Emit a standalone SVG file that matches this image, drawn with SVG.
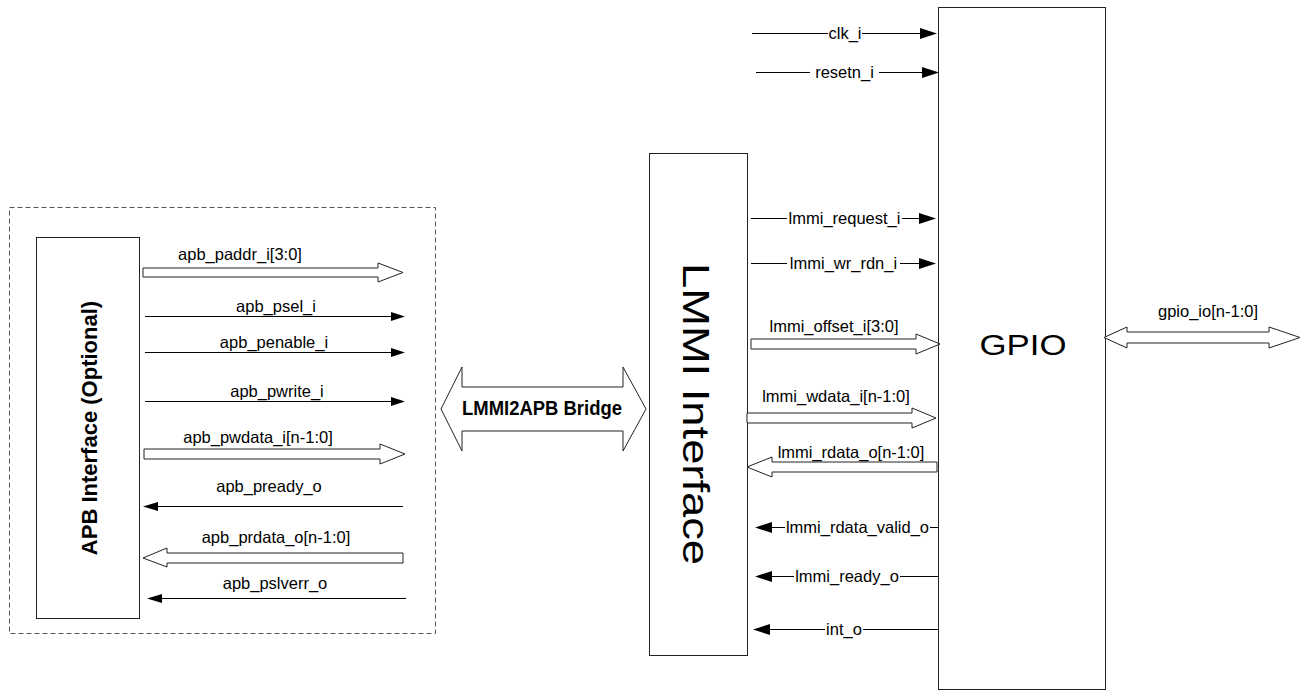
<svg xmlns="http://www.w3.org/2000/svg" width="1304" height="690" viewBox="0 0 1304 690">
<style>
.bg{fill:#fff}
.box{fill:#fff;stroke:#222;stroke-width:1}
.dash{fill:none;stroke:#555;stroke-width:1;stroke-dasharray:5,3}
.ln{stroke:#000;stroke-width:1;fill:none}
.hollow{fill:#fff;stroke:#222;stroke-width:1}
.head{fill:#000;stroke:none}
.sig{font-family:"Liberation Sans",Arial,sans-serif;font-size:16.5px;fill:#000;text-anchor:middle}
.bold{font-family:"Liberation Sans",Arial,sans-serif;font-weight:bold;fill:#000;text-anchor:middle}
.big{font-family:"Liberation Sans",Arial,sans-serif;fill:#000;text-anchor:middle}
</style>
<rect class="bg" x="0" y="0" width="1304" height="690"/>

<g id="apb-region">
  <rect class="dash" x="9.5" y="207.5" width="426" height="426"/>
</g>

<g id="apb-interface">
  <rect class="box" x="36.5" y="237.5" width="103" height="381"/>
  <text class="bold" font-size="22" transform="translate(97,428) rotate(-90)">APB Interface (Optional)</text>
</g>

<g id="lmmi2apb-bridge">
  <polygon class="hollow" points="441,409 462,367 462,387 623,387 623,367 646,409 623,451 623,431 462,431 462,451"/>
  <text class="bold" font-size="20" x="542" y="415" textLength="160" lengthAdjust="spacingAndGlyphs">LMMI2APB Bridge</text>
</g>

<g id="lmmi-interface">
  <rect class="box" x="649.5" y="153.5" width="98" height="502"/>
  <text class="big" font-size="37" transform="translate(683,414) rotate(90)" textLength="302" lengthAdjust="spacingAndGlyphs">LMMI Interface</text>
</g>

<g id="gpio">
  <rect class="box" x="938.5" y="7.5" width="167" height="682"/>
  <text class="big" font-size="30" x="1023" y="355" textLength="87" lengthAdjust="spacingAndGlyphs">GPIO</text>
</g>

<g id="connectors">
  <polygon class="hollow" points="143,268 378,268 378,263 403,272.5 378,282 378,277 143,277"/>
  <text class="sig" x="240" y="260">apb_paddr_i[3:0]</text>

  <line class="ln" x1="145" y1="316.5" x2="392" y2="316.5"/>
  <polygon class="head" points="391,312 405,316.5 391,321"/>
  <text class="sig" x="276" y="312">apb_psel_i</text>

  <line class="ln" x1="145" y1="352.5" x2="392" y2="352.5"/>
  <polygon class="head" points="391,348 405,352.5 391,357"/>
  <text class="sig" x="274" y="348">apb_penable_i</text>

  <line class="ln" x1="145" y1="401.5" x2="392" y2="401.5"/>
  <polygon class="head" points="391,397 405,401.5 391,406"/>
  <text class="sig" x="277" y="397">apb_pwrite_i</text>

  <polygon class="hollow" points="144,449 380,449 380,444 405,454 380,464 380,459 144,459"/>
  <text class="sig" x="258" y="443">apb_pwdata_i[n-1:0]</text>

  <line class="ln" x1="156" y1="506.5" x2="403" y2="506.5"/>
  <polygon class="head" points="158,502 143,506.5 158,511"/>
  <text class="sig" x="269" y="492">apb_pready_o</text>

  <polygon class="hollow" points="403,553 167,553 167,548 143,558 167,567 167,563 403,563"/>
  <text class="sig" x="276" y="543">apb_prdata_o[n-1:0]</text>

  <line class="ln" x1="160" y1="598.5" x2="406" y2="598.5"/>
  <polygon class="head" points="162,594 147,598.5 162,603"/>
  <text class="sig" x="275" y="589">apb_pslverr_o</text>

  <line class="ln" x1="752" y1="33.5" x2="828" y2="33.5"/>
  <line class="ln" x1="862" y1="33.5" x2="922" y2="33.5"/>
  <polygon class="head" points="920,28 937,33.5 920,39"/>
  <text class="sig" x="845" y="39">clk_i</text>

  <line class="ln" x1="756" y1="72.5" x2="810" y2="72.5"/>
  <line class="ln" x1="879" y1="72.5" x2="924" y2="72.5"/>
  <polygon class="head" points="922,67 939,72.5 922,78"/>
  <text class="sig" x="844.5" y="78">resetn_i</text>

  <line class="ln" x1="751" y1="218.5" x2="787" y2="218.5"/>
  <line class="ln" x1="902" y1="218.5" x2="921" y2="218.5"/>
  <polygon class="head" points="919,213 936,218.5 919,224"/>
  <text class="sig" x="844.5" y="224">lmmi_request_i</text>

  <line class="ln" x1="751" y1="263.5" x2="787" y2="263.5"/>
  <line class="ln" x1="900" y1="263.5" x2="921" y2="263.5"/>
  <polygon class="head" points="919,258 936,263.5 919,269"/>
  <text class="sig" x="843.5" y="269">lmmi_wr_rdn_i</text>

  <polygon class="hollow" points="751,339 916,339 916,334 940,344 916,354 916,349 751,349"/>
  <text class="sig" x="834" y="332">lmmi_offset_i[3:0]</text>

  <polygon class="hollow" points="747,413 912,413 912,408 936,418 912,428 912,423 747,423"/>
  <text class="sig" x="836" y="402">lmmi_wdata_i[n-1:0]</text>

  <polygon class="hollow" points="937,462 772,462 772,457 747,467 772,477 772,472 937,472"/>
  <text class="sig" x="851" y="458">lmmi_rdata_o[n-1:0]</text>

  <line class="ln" x1="770" y1="527.5" x2="785" y2="527.5"/>
  <line class="ln" x1="930" y1="527.5" x2="938" y2="527.5"/>
  <polygon class="head" points="772,522 755,527.5 772,533"/>
  <text class="sig" x="857.5" y="533">lmmi_rdata_valid_o</text>

  <line class="ln" x1="770" y1="576.5" x2="794" y2="576.5"/>
  <line class="ln" x1="900" y1="576.5" x2="938" y2="576.5"/>
  <polygon class="head" points="772,571 755,576.5 772,582"/>
  <text class="sig" x="847" y="582">lmmi_ready_o</text>

  <line class="ln" x1="768" y1="629.5" x2="825" y2="629.5"/>
  <line class="ln" x1="863" y1="629.5" x2="938" y2="629.5"/>
  <polygon class="head" points="770,624 753,629.5 770,635"/>
  <text class="sig" x="844" y="635">int_o</text>

  <polygon class="hollow" points="1104,337.5 1127,327 1127,332 1269,332 1269,327 1300,337.5 1269,348 1269,343 1127,343 1127,348"/>
  <text class="sig" x="1208" y="317">gpio_io[n-1:0]</text>
</g>
</svg>
